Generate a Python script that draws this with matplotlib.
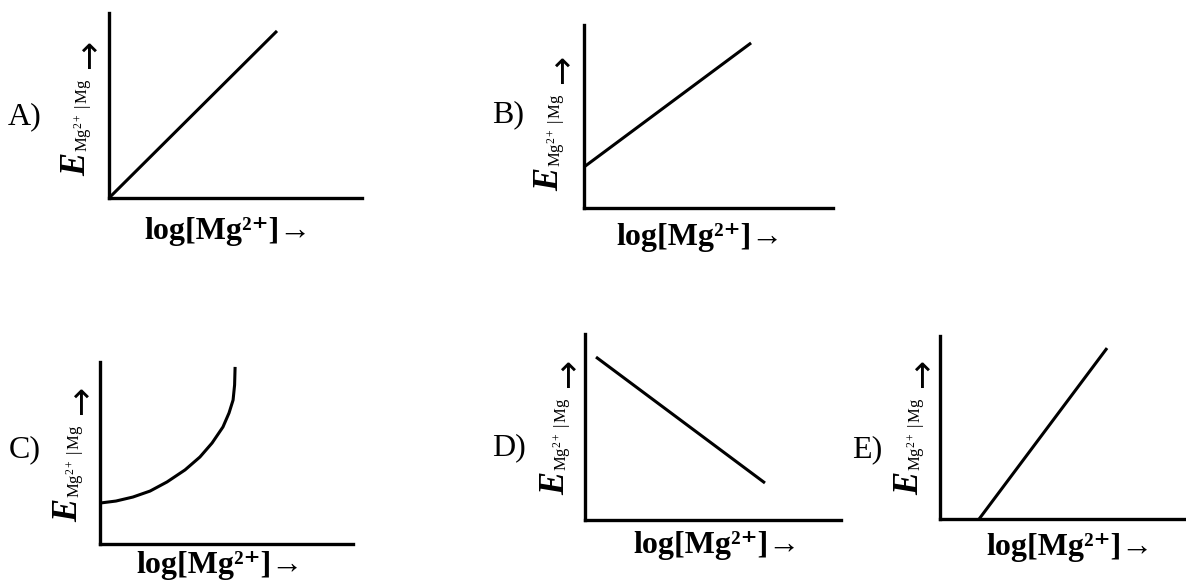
import matplotlib
matplotlib.use("Agg")
import matplotlib.pyplot as plt

plt.rcParams['font.family'] = ['Liberation Serif', 'DejaVu Serif']
plt.rcParams['mathtext.fontset'] = 'custom'
plt.rcParams['mathtext.rm'] = 'Liberation Serif'
plt.rcParams['mathtext.it'] = 'Liberation Serif:italic'
plt.rcParams['mathtext.bf'] = 'Liberation Serif:bold'

# panel letters and axis texts
panel_labels = ['A)', 'B)', 'C)', 'D)', 'E)']
x_label = 'log[Mg²⁺]→'
y_main = 'E'
y_sub = r'$\mathrm{Mg^{2+}\,\,|\,Mg}$'
y_arrow = '→'

# curves, in fractions of each small axes
a_x = [0.0, 0.664]
a_y = [0.0, 0.903]
b_x = [0.0, 0.671]
b_y = [0.224, 0.902]
c_x = [0.0, 0.063, 0.130, 0.198, 0.265, 0.336, 0.395, 0.443, 0.486, 0.510, 0.526, 0.532, 0.534]
c_y = [0.225, 0.236, 0.258, 0.291, 0.341, 0.407, 0.478, 0.555, 0.643, 0.720, 0.791, 0.874, 0.973]
d_x = [0.043, 0.703]
d_y = [0.876, 0.199]
e_x = [0.159, 0.679]
e_y = [0.0, 0.934]
curves = [(a_x, a_y), (b_x, b_y), (c_x, c_y), (d_x, d_y), (e_x, e_y)]

W, H = 1186, 583
fig = plt.figure(figsize=(W / 100, H / 100), dpi=100)

# box of each panel in pixels: left, top, right, bottom
boxes = [(109, 13, 362, 198), (584, 25, 833, 208), (100, 362, 353, 544),
         (585, 334, 841, 520), (940, 336, 1186, 519)]
letter_pos = [(25, 117), (508, 115), (25, 450), (509, 448), (867, 450)]
# centre x and lower end of the rotated "E" of each y label
ylab_pos = [(77, 176), (550, 191), (69, 522), (556, 495), (910, 495)]
xlab_pos = [(228, 231), (700, 238), (220, 566), (717, 545), (1070, 547)]


def fx(px):
    return px / W


def fy(py):
    return 1 - py / H


for i, (x, y) in enumerate(curves):
    l, t, r, b = boxes[i]
    ax = fig.add_axes([fx(l), fy(b), (r - l) / W, (b - t) / H])
    ax.plot(x, y, color='black', lw=2.2, clip_on=False, solid_capstyle='butt')
    ax.set_xlim(0, 1)
    ax.set_ylim(0, 1)
    for s in ['top', 'right']:
        ax.spines[s].set_visible(False)
    for s in ['left', 'bottom']:
        ax.spines[s].set_linewidth(2.4)
    ax.set_xticks([])
    ax.set_yticks([])
    ax.patch.set_alpha(0)

    fig.text(fx(letter_pos[i][0]), fy(letter_pos[i][1]), panel_labels[i],
             fontsize=23, ha='center', va='center')

    # y label in three pieces: E, its subscript, the arrow
    x0, y0 = ylab_pos[i]
    fig.text(fx(x0), fy(y0), y_main, fontsize=25, fontstyle='italic',
             fontweight='bold', rotation=90, ha='center', va='bottom')
    fig.text(fx(x0 + 6), fy(y0 - 24), y_sub, fontsize=12,
             rotation=90, ha='center', va='bottom')
    fig.text(fx(x0 + 11), fy(y0 - 122), y_arrow, fontsize=25,
             family='DejaVu Sans', rotation=90, ha='center', va='center')

    fig.text(fx(xlab_pos[i][0]), fy(xlab_pos[i][1]), x_label, fontsize=23,
             fontweight='bold', ha='center', va='center')

fig.savefig('out.png', dpi=100)
